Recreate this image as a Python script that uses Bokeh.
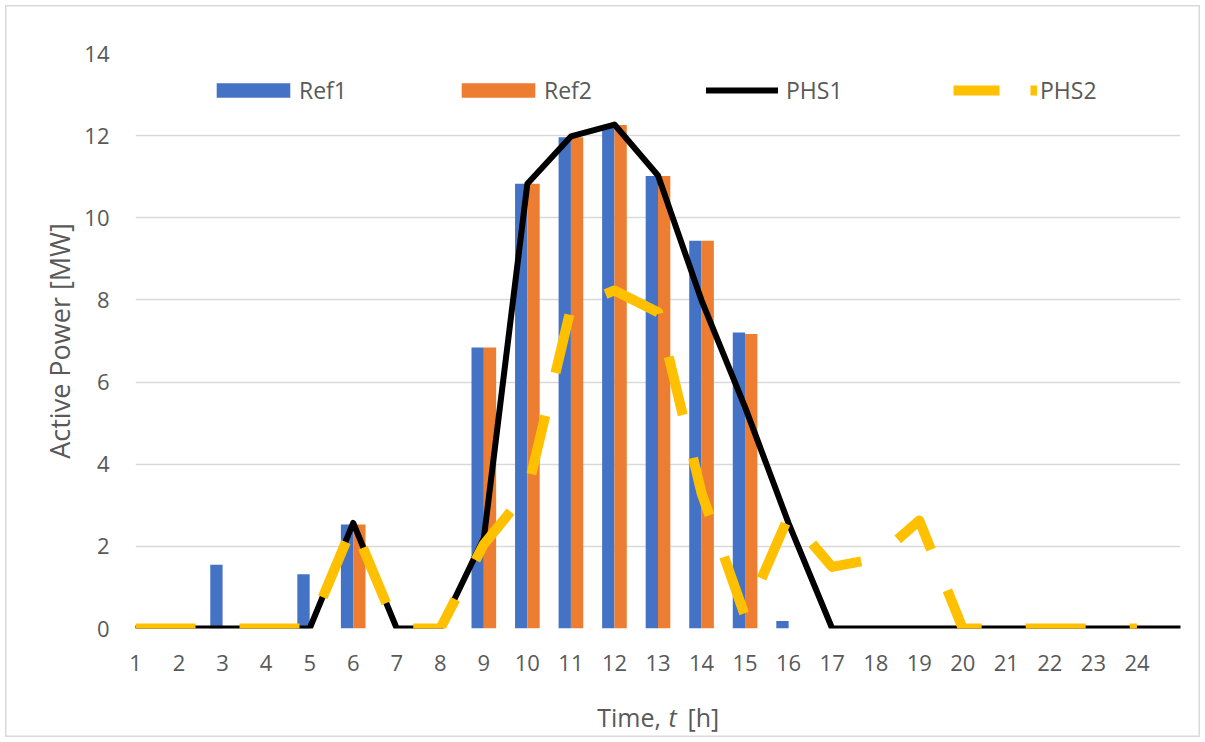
import math

from bokeh.embed import file_html
from bokeh.models import (ColumnDataSource, FixedTicker, Label, Legend,
                          LegendItem, Range1d)
from bokeh.plotting import figure
from bokeh.resources import INLINE

# ---- data -------------------------------------------------------------
hours = list(range(1, 25))
tick_labels = [str(h) for h in hours]

ref1 = [0, 0, 1.55, 0, 1.32, 2.53, 0, 0, 6.84, 10.83, 11.96, 12.21,
        11.02, 9.44, 7.21, 0.18, 0, 0, 0, 0, 0, 0, 0, 0]
ref2 = [0, 0, 0, 0, 0, 2.53, 0, 0, 6.84, 10.83, 11.96, 12.26,
        11.02, 9.44, 7.17, 0, 0, 0, 0, 0, 0, 0, 0, 0]

# the line series run one step past the last labelled hour
line_hours = list(range(1, 26))
phs1 = [0, 0, 0, 0, 0, 2.57, 0, 0, 2.2, 10.83, 11.98, 12.27,
        11.03, 7.99, 5.39, 2.56, 0, 0, 0, 0, 0, 0, 0, 0, 0]
phs2 = [0, 0, 0, 0, 0, 2.53, 0, 0, 2.05, 3.35, 7.8, 8.23,
        7.7, 3.3, 0.3, 2.73, 1.5, 1.7, 2.63, 0, 0, 0, 0, 0, math.nan]

# ---- styling ----------------------------------------------------------
FONT = "Open Sans"
TEXT = "#595959"
GRID = "#D9D9D9"
BLUE = "#4472C4"
ORANGE = "#ED7D31"
GOLD = "#FFC000"
BAR_W = 0.283

p = figure(width=1205, height=742, output_backend="svg", toolbar_location=None,
           x_range=Range1d(1, 25), y_range=Range1d(0, 14),
           min_border_left=135, min_border_right=25,
           min_border_top=53, min_border_bottom=114)
p.outline_line_color = None
p.background_fill_color = "white"
# transparent margins let the element's own inset frame show through
p.border_fill_color = None
p.styles = {
    "background-color": "white",
    "box-shadow": "inset 0 0 0 5px white, inset 0 0 0 6.5px #D9D9D9",
}

bars = ColumnDataSource(dict(
    x1=[h - BAR_W / 2 for h in hours],
    x2=[h + BAR_W / 2 for h in hours],
    ref1=ref1, ref2=ref2))
lines = ColumnDataSource(dict(x=line_hours, phs1=phs1, phs2=phs2))

r_ref1 = p.vbar(x="x1", top="ref1", width=BAR_W, source=bars,
                fill_color=BLUE, line_color=None)
r_ref2 = p.vbar(x="x2", top="ref2", width=BAR_W, source=bars,
                fill_color=ORANGE, line_color=None)
r_phs1 = p.line(x="x", y="phs1", source=lines, line_color="black",
                line_width=6, line_join="round", line_cap="round")
r_phs2 = p.line(x="x", y="phs2", source=lines, line_color=GOLD,
                line_width=10, line_dash="60 44", line_join="round",
                line_cap="butt")

# legend swatch for PHS2 uses a shorter dash; it is mapped onto a range
# that keeps the line itself out of view
p.extra_y_ranges = {"key": Range1d(100, 200)}
r_phs2_key = p.line(x="x", y="phs2", source=lines, y_range_name="key",
                    line_color=GOLD, line_width=10, line_dash="46 31",
                    line_cap="butt")

# ---- axes -------------------------------------------------------------
p.xaxis.ticker = FixedTicker(ticks=hours)
p.xaxis.major_label_overrides = {h: t for h, t in zip(hours, tick_labels)}
p.yaxis.ticker = FixedTicker(ticks=list(range(0, 15, 2)))
for ax in (p.xaxis, p.yaxis):
    ax.axis_line_color = None
    ax.major_tick_line_color = None
    ax.minor_tick_line_color = None
    ax.major_label_text_font = FONT
    ax.major_label_text_font_size = "22px"
    ax.major_label_text_color = TEXT
p.xaxis.major_label_standoff = 20
p.yaxis.major_label_standoff = 20

p.yaxis.axis_label = "Active Power [MW]"
p.yaxis.axis_label_text_font = FONT
p.yaxis.axis_label_text_font_size = "27px"
p.yaxis.axis_label_text_font_style = "normal"
p.yaxis.axis_label_text_color = TEXT
p.yaxis.axis_label_standoff = 3

p.xgrid.grid_line_color = None
p.ygrid.grid_line_color = GRID
p.ygrid.grid_line_width = 1.5

# x-axis title "Time, t [h]" with an italic variable name; the three
# pieces sit in different side panels so that none of them grows one panel
for txt, xpos, style, side in (("Time,", 596.7, "normal", "below"),
                               ("t", 668, "italic", "right"),
                               ("[h]", 687, "normal", "above")):
    p.add_layout(Label(x=xpos, y=716, x_units="canvas", y_units="canvas",
                       text=txt, text_font=FONT, text_font_size="25px",
                       text_font_style=style, text_color=TEXT,
                       text_baseline="alphabetic", text_align="left"),
                 side)

# ---- legend (one box per entry, spread across the top) ---------------
def add_key(renderer, label, x, width, height, standoff):
    lg = Legend(items=[LegendItem(label=label, renderers=[renderer])],
                location=(x, 522), orientation="horizontal",
                glyph_width=width, glyph_height=height,
                label_standoff=standoff, padding=0, margin=0, spacing=0,
                label_text_font=FONT, label_text_font_size="23px",
                label_text_color=TEXT, background_fill_alpha=0,
                border_line_alpha=0)
    p.add_layout(lg)

add_key(r_ref1, "Ref1", 72, 92, 18, 0)
add_key(r_ref2, "Ref2", 317, 92, 18, 0)
add_key(r_phs1, "PHS1", 571, 72, 14, 8)
add_key(r_phs2_key, "PHS2", 818, 84, 14, 3)

open("out.html", "w").write(file_html(p, INLINE))
